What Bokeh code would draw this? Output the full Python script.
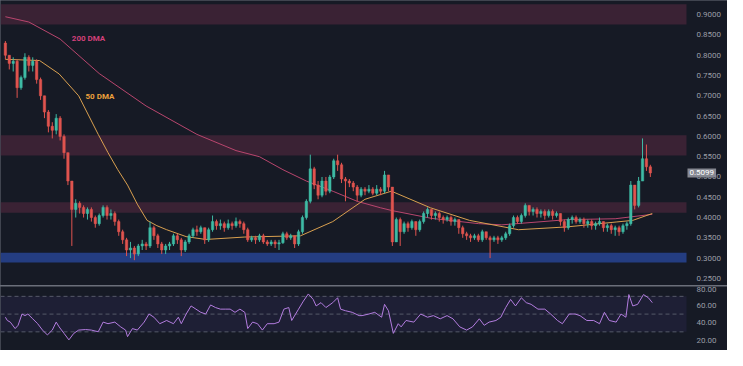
from bokeh.plotting import figure
from bokeh.layouts import column
from bokeh.models import (ColumnDataSource, BoxAnnotation, FixedTicker,
                          NumeralTickFormatter, Label, Range1d)
from bokeh.embed import file_html
from bokeh.resources import INLINE

# ---------------- data ----------------
first_open = 0.83
close = [0.80, 0.78, 0.785, 0.72, 0.745, 0.795, 0.775, 0.785, 0.74, 0.70,
         0.66, 0.625, 0.615, 0.645, 0.60, 0.56, 0.49, 0.42, 0.435, 0.425,
         0.41, 0.42, 0.40, 0.385, 0.405, 0.425, 0.405, 0.41, 0.39, 0.365,
         0.345, 0.32, 0.325, 0.31, 0.33, 0.335, 0.33, 0.375, 0.355, 0.335,
         0.32, 0.33, 0.335, 0.355, 0.345, 0.32, 0.34, 0.355, 0.37, 0.365,
         0.375, 0.345, 0.37, 0.39, 0.38, 0.385, 0.375, 0.385, 0.38, 0.39,
         0.385, 0.37, 0.345, 0.35, 0.345, 0.355, 0.34, 0.335, 0.34, 0.335,
         0.338, 0.36, 0.35, 0.355, 0.335, 0.365, 0.40, 0.44, 0.52, 0.48,
         0.455, 0.49, 0.465, 0.50, 0.54, 0.53, 0.495, 0.49, 0.485, 0.475,
         0.455, 0.47, 0.465, 0.47, 0.46, 0.47, 0.465, 0.505, 0.475, 0.34,
         0.395, 0.365, 0.385, 0.375, 0.39, 0.37, 0.39, 0.41, 0.42, 0.405,
         0.41, 0.40, 0.395, 0.40, 0.39, 0.395, 0.375, 0.36, 0.355, 0.35,
         0.355, 0.345, 0.365, 0.35, 0.345, 0.35, 0.345, 0.35, 0.36, 0.38,
         0.40, 0.39, 0.405, 0.43, 0.415, 0.42, 0.41, 0.415, 0.405, 0.415,
         0.405, 0.41, 0.39, 0.375, 0.395, 0.40, 0.39, 0.395, 0.385, 0.39,
         0.38, 0.385, 0.39, 0.375, 0.38, 0.37, 0.375, 0.365, 0.38, 0.385,
         0.48, 0.43, 0.49, 0.545, 0.525, 0.5099]
high = [0.835, 0.80, 0.795, 0.79, 0.75, 0.805, 0.80, 0.795, 0.79, 0.745,
        0.70, 0.665, 0.635, 0.655, 0.65, 0.605, 0.56, 0.49, 0.445, 0.44,
        0.43, 0.425, 0.425, 0.405, 0.41, 0.43, 0.43, 0.42, 0.415, 0.395,
        0.37, 0.35, 0.34, 0.33, 0.335, 0.345, 0.34, 0.39, 0.38, 0.36,
        0.34, 0.335, 0.34, 0.36, 0.36, 0.35, 0.345, 0.36, 0.375, 0.38,
        0.38, 0.375, 0.375, 0.405, 0.395, 0.395, 0.39, 0.395, 0.39, 0.40,
        0.395, 0.39, 0.375, 0.355, 0.355, 0.36, 0.36, 0.345, 0.345, 0.345,
        0.345, 0.365, 0.365, 0.36, 0.355, 0.37, 0.405, 0.445, 0.555, 0.525,
        0.49, 0.50, 0.50, 0.505, 0.545, 0.555, 0.535, 0.50, 0.495, 0.49,
        0.48, 0.475, 0.475, 0.48, 0.475, 0.48, 0.475, 0.515, 0.505, 0.475,
        0.40, 0.40, 0.39, 0.39, 0.395, 0.39, 0.395, 0.415, 0.425, 0.42,
        0.415, 0.415, 0.405, 0.405, 0.405, 0.40, 0.395, 0.38, 0.365, 0.36,
        0.36, 0.36, 0.37, 0.365, 0.355, 0.355, 0.355, 0.355, 0.365, 0.385,
        0.405, 0.405, 0.41, 0.435, 0.43, 0.425, 0.425, 0.42, 0.42, 0.42,
        0.42, 0.415, 0.41, 0.395, 0.40, 0.405, 0.405, 0.40, 0.40, 0.395,
        0.395, 0.39, 0.40, 0.39, 0.385, 0.385, 0.38, 0.38, 0.385, 0.39,
        0.49, 0.48, 0.50, 0.595, 0.58, 0.53]
low = [0.79, 0.765, 0.76, 0.695, 0.715, 0.74, 0.76, 0.76, 0.73, 0.69,
       0.645, 0.61, 0.595, 0.605, 0.59, 0.545, 0.48, 0.33, 0.40, 0.41,
       0.40, 0.395, 0.39, 0.375, 0.38, 0.40, 0.395, 0.395, 0.38, 0.355,
       0.335, 0.305, 0.30, 0.295, 0.305, 0.32, 0.32, 0.325, 0.345, 0.325,
       0.31, 0.31, 0.32, 0.33, 0.335, 0.305, 0.315, 0.335, 0.35, 0.355,
       0.36, 0.335, 0.34, 0.365, 0.37, 0.37, 0.365, 0.37, 0.37, 0.375,
       0.375, 0.36, 0.34, 0.34, 0.335, 0.34, 0.335, 0.33, 0.33, 0.325,
       0.32, 0.335, 0.345, 0.345, 0.325, 0.33, 0.36, 0.395, 0.435, 0.47,
       0.445, 0.45, 0.455, 0.46, 0.495, 0.515, 0.485, 0.44, 0.475, 0.465,
       0.44, 0.45, 0.455, 0.46, 0.455, 0.455, 0.455, 0.46, 0.465, 0.33,
       0.34, 0.33, 0.36, 0.365, 0.37, 0.355, 0.365, 0.385, 0.40, 0.395,
       0.395, 0.39, 0.385, 0.39, 0.38, 0.38, 0.36, 0.35, 0.345, 0.34,
       0.345, 0.34, 0.34, 0.345, 0.30, 0.34, 0.335, 0.34, 0.345, 0.355,
       0.375, 0.385, 0.385, 0.40, 0.405, 0.405, 0.40, 0.40, 0.395, 0.40,
       0.395, 0.40, 0.38, 0.365, 0.37, 0.385, 0.385, 0.385, 0.375, 0.375,
       0.37, 0.37, 0.38, 0.365, 0.365, 0.36, 0.355, 0.355, 0.36, 0.37,
       0.38, 0.42, 0.425, 0.49, 0.515, 0.50]

ma200_idx = [0, 6, 14, 24, 36, 49, 59, 65, 71, 77, 84, 90, 96, 99, 109,
             121, 127, 144, 156, 165.5]
ma200 = [0.895, 0.882, 0.84, 0.755, 0.675, 0.605, 0.565, 0.55, 0.518, 0.49,
         0.464, 0.44, 0.424, 0.417, 0.398, 0.385, 0.382, 0.395, 0.397, 0.408]

ma50_idx = [0, 8.75, 13.75, 18.75, 23.75, 26.25, 28.75, 31.25, 33.75, 36.25,
            38.75, 41.25, 46.25, 51.25, 61.25, 75.5, 83.75, 92, 98.75, 108.75,
            118.75, 131.25, 143.75, 156.25, 160.5, 165.5]
ma50 = [0.79, 0.787, 0.754, 0.70, 0.605, 0.56, 0.518, 0.48, 0.433, 0.393,
        0.38, 0.37, 0.353, 0.346, 0.352, 0.355, 0.39, 0.445, 0.465, 0.424,
        0.393, 0.370, 0.377, 0.389, 0.393, 0.41]

rsi_idx = [0, 0.5, 1.25, 2.5, 3.25, 4.25, 5, 5.75, 7, 8.25, 9.5, 10.75, 12,
           13, 13.75, 15, 16.25, 17.5, 18.75, 20.5, 22, 23.75, 25, 26.25, 28,
           29.5, 30.75, 31.25, 32.5, 33.75, 35.5, 36.75, 38, 39.5, 41.25, 43,
           44.25, 45, 46.25, 47.5, 48.75, 50, 51.25, 52.5, 53.75, 55, 56.25,
           57.5, 58.75, 60, 61.25, 62, 63.25, 64.5, 65.75, 67, 68.75, 70,
           71.25, 72.5, 73.25, 74.25, 75, 76.25, 77.5, 78.75, 79.5, 80.75, 82,
           83.75, 85, 85.75, 87, 88.75, 90.5, 91.25, 93, 94.5, 96.25, 97, 98,
           99.25, 100.5, 101.25, 102.5, 104.5, 106.25, 108, 109.5, 111.25, 113,
           114.5, 116.25, 118, 119.5, 121.25, 122.5, 123.75, 125.5, 126.75, 128,
           129.25, 130.5, 132, 133.25, 134.5, 136.25, 138, 139.5, 141.25, 142.5,
           144.25, 145.75, 147, 148.75, 150.5, 152, 153.25, 154.5, 156.25,
           157.5, 158.75, 159.5, 160.5, 161.75, 163.25, 164.5, 165.5]
rsi = [46.5, 42.8, 41, 33.7, 37.4, 50.1, 48.3, 50.1, 44.7, 39.2, 32, 26.5, 32,
       41, 35.6, 28.3, 21, 28.3, 32, 32.6, 32, 30.1, 41, 39.2, 41, 35.6, 32,
       24.6, 33.7, 32, 41, 50.1, 46.5, 39.2, 42.8, 39.2, 46.5, 39.2, 50.1,
       59.2, 55.6, 52, 50.1, 60.3, 57.4, 55.6, 55.6, 55.6, 52, 55.6, 52, 33.7,
       41, 39.2, 32, 39.2, 39.2, 41, 55.6, 57.4, 42.8, 50.1, 55.6, 64.7, 72.7,
       66.5, 59.2, 62.9, 57.4, 62.9, 68.4, 55.6, 53.8, 52, 48.3, 48.3, 50.1,
       52, 46.5, 61, 53.8, 28.3, 39.2, 35.6, 42.8, 41, 50.1, 46.5, 48.3, 44.7,
       48.3, 44.7, 35.6, 32, 35.6, 44.7, 37.4, 41, 42.8, 46.5, 57.4, 66.5,
       59.2, 68.4, 62.9, 61, 55.6, 55.6, 50.1, 42.8, 39.2, 50.1, 50.1, 48.3,
       42.8, 42.8, 39.2, 52, 42.8, 41, 50.1, 46.5, 72, 59.2, 61, 72, 68.4, 62.9]

resistance_zones = [(0.876, 0.926), (0.553, 0.603), (0.412, 0.438)]
support_zone = (0.289, 0.313)
price_ticks = [0.25, 0.30, 0.35, 0.40, 0.45, 0.50, 0.55, 0.60, 0.65, 0.70,
               0.75, 0.80, 0.85, 0.90]
rsi_ticks = [20, 40, 60, 80]
rsi_levels = [30, 50, 70]
last_price = 0.5099

# ---------------- styling ----------------
BG = "#161a25"
UP = "#3fbba5"
DOWN = "#e0544f"
AXIS_TXT = "#9a9da6"
FONT = "Roboto"
W, AXW = 727, 41
X0, XAX = -1.25, 174.25                      # pane edges (index units)
X1 = XAX + (XAX - X0) * AXW / (W - AXW)      # extra room for price scale

opens = [first_open] + close[:-1]
idx = list(range(len(close)))
colors = [UP if c >= o else DOWN for o, c in zip(opens, close)]
src = ColumnDataSource(dict(
    x=idx, top=[max(o, c) for o, c in zip(opens, close)],
    bottom=[min(o, c) for o, c in zip(opens, close)],
    high=high, low=low, color=colors))

x_range = Range1d(X0, X1)


def style_axis(ax):
    ax.fixed_location = XAX
    ax.axis_line_color = None
    ax.major_tick_line_color = None
    ax.minor_tick_line_color = None
    ax.major_label_text_color = AXIS_TXT
    ax.major_label_text_font = FONT
    ax.major_label_text_font_size = "8px"
    ax.major_label_standoff = 4


p = figure(width=W, height=285, x_range=x_range, y_range=Range1d(0.2325, 0.935),
           output_backend="svg", toolbar_location=None,
           y_axis_location="right", x_axis_location=None,
           background_fill_color=BG, border_fill_color=BG,
           min_border_left=0, min_border_right=0, min_border_top=0,
           min_border_bottom=0)
p.grid.visible = False
p.outline_line_color = None

for lo, hi in resistance_zones:
    p.add_layout(BoxAnnotation(bottom=lo, top=hi, right=XAX, fill_color="#5a2a42",
                               fill_alpha=0.55, line_color=None, level="underlay"))
p.add_layout(BoxAnnotation(bottom=support_zone[0], top=support_zone[1], right=XAX,
                           fill_color="#2a4aa0", fill_alpha=0.75, line_color=None,
                           level="underlay"))

p.line(ma200_idx, ma200, line_color="#b8466e", line_width=1)
p.line(ma50_idx, ma50, line_color="#d9a050", line_width=1)

p.segment(x0="x", x1="x", y0="low", y1="high", color="color", line_width=1,
          source=src)
p.vbar(x="x", width=0.62, top="top", bottom="bottom", fill_color="color",
       line_color="color", line_width=0.5, source=src)

p.add_layout(Label(x=17, y=0.841, text="200 DMA", text_font=FONT,
                   text_font_style="bold", text_font_size="8px",
                   text_color="#d3407a", text_baseline="middle"))
p.add_layout(Label(x=20.5, y=0.699, text="50 DMA", text_font=FONT,
                   text_font_style="bold", text_font_size="8px",
                   text_color="#eda13c", text_baseline="middle"))

p.yaxis.ticker = FixedTicker(ticks=price_ticks)
p.yaxis.formatter = NumeralTickFormatter(format="0.0000")
style_axis(p.yaxis[0])

p.add_layout(Label(x=XAX, x_offset=1, y=last_price,
                   text=f"{last_price:.4f}", level="overlay",
                   text_font=FONT, text_font_size="8px", text_color="#ffffff",
                   text_baseline="middle", background_fill_color="#858892",
                   padding=2))

# ---------------- RSI panel ----------------
r = figure(width=W, height=64, x_range=x_range, y_range=Range1d(9, 81.1),
           output_backend="svg", toolbar_location=None,
           y_axis_location="right", x_axis_location=None,
           background_fill_color=BG, border_fill_color=BG,
           min_border_left=0, min_border_right=0, min_border_top=0,
           min_border_bottom=0)
r.grid.visible = False
r.outline_line_color = None
r.add_layout(BoxAnnotation(bottom=rsi_levels[0], top=rsi_levels[-1], right=XAX,
                           fill_color="#6a4fc0", fill_alpha=0.10, line_color=None,
                           level="underlay"))
r.segment(x0=[X0] * len(rsi_levels), x1=[XAX] * len(rsi_levels),
          y0=rsi_levels, y1=rsi_levels, line_color="#555968",
          line_dash="4 3", line_width=1)
r.line(rsi_idx, rsi, line_color="#b37ddf", line_width=1)
r.yaxis.ticker = FixedTicker(ticks=rsi_ticks)
r.yaxis.formatter = NumeralTickFormatter(format="0.00")
style_axis(r.yaxis[0])

layout = column(p, r, spacing=1, styles={"background-color": "#6b6f7a"})

open("out.html", "w").write(file_html(layout, INLINE))
